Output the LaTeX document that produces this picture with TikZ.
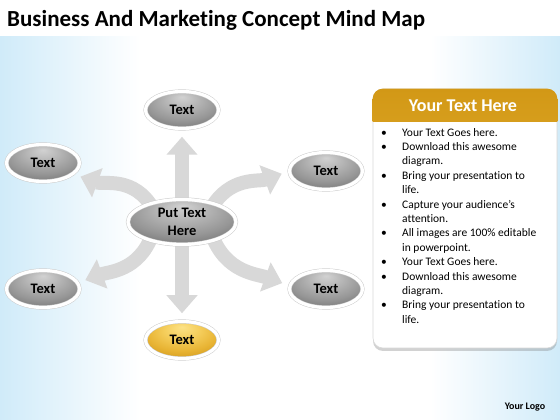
\documentclass[tikz,border=0pt]{standalone}
\usepackage{fontspec}
\setmainfont{Carlito}[Ligatures=NoCommon]
\usetikzlibrary{shapes.geometric,arrows.meta,shadows}

\definecolor{bgblue}{RGB}{208,235,249}
\definecolor{arrowgray}{RGB}{216,216,216}
\definecolor{grayA}{RGB}{210,210,210}
\definecolor{grayB}{RGB}{180,180,180}
\definecolor{grayC}{RGB}{150,150,150}
\definecolor{grayD}{RGB}{112,112,112}
\definecolor{grayE}{RGB}{85,85,85}
\definecolor{goldA}{RGB}{252,226,135}
\definecolor{goldB}{RGB}{245,206,92}
\definecolor{goldC}{RGB}{232,180,52}
\definecolor{goldD}{RGB}{205,148,25}
\definecolor{goldE}{RGB}{182,128,10}
\definecolor{headdark}{RGB}{210,152,22}
\definecolor{headlight}{RGB}{242,196,70}

\newcommand{\bubblefont}{\fontsize{14.5}{18}\selectfont\bfseries}
\newcommand{\listfont}{\fontsize{11.5}{14.4}\selectfont}
\newcommand{\bul}{\makebox[21pt][l]{\textbullet}}
\newcommand{\ind}{\hspace*{21pt}}

\pgfdeclareradialshading{grayshade}{\pgfpoint{0bp}{18bp}}{color(0bp)=(grayA); color(12bp)=(grayB); color(24bp)=(grayC); color(36bp)=(grayD); color(50bp)=(grayE)}
\pgfdeclareradialshading{goldshade}{\pgfpoint{0bp}{18bp}}{color(0bp)=(goldA); color(12bp)=(goldB); color(24bp)=(goldC); color(36bp)=(goldD); color(50bp)=(goldE)}

\pgfdeclarelayer{bg}
\pgfdeclarelayer{arrowlayer}
\pgfsetlayers{bg,arrowlayer,main}

\tikzset{
  bubble/.style={ellipse, draw=gray!40, double=white, double distance=3.2pt, line width=0.5pt,
    shading=grayshade, minimum width=73pt, minimum height=37pt, inner sep=0pt, font=\bubblefont},
  goldbubble/.style={bubble, shading=goldshade},
  bigarrow/.style={arrowgray, line width=14pt, -{Triangle[width=30pt,length=18pt]},
    shorten >=8pt, shorten <=-6pt},
  panelbox/.style={rectangle, rounded corners=10pt, fill=white, draw=gray!30, line width=0.6pt,
    minimum width=184pt, minimum height=259pt,
    drop shadow={shadow xshift=0pt, shadow yshift=-3pt, opacity=0.35, fill=gray}}
}

\begin{document}
\begin{tikzpicture}[x=1pt,y=1pt]
\useasboundingbox (0,0) rectangle (560,420);

% Background
\begin{pgfonlayer}{bg}
\fill[white] (0,0) rectangle (560,420);
\shade[left color=bgblue, right color=white] (0,0) rectangle (140,383);
\shade[left color=white, right color=bgblue] (430,0) rectangle (560,383);
\end{pgfonlayer}

% Title
\node (title) [anchor=base west, inner sep=0pt, font=\fontsize{23}{27}\selectfont\bfseries] at (7,393) {Business And Marketing Concept Mind Map};

% Mind map nodes
\node (ctr) [bubble, minimum width=108pt, minimum height=45pt, align=center] at (182,198) {Put Text\\Here};
\node (top) [bubble] at (182,310) {Text};
\node (tl) [bubble] at (43,257) {Text};
\node (tr) [bubble] at (326,249) {Text};
\node (bl) [bubble] at (43,131) {Text};
\node (br) [bubble] at (326,131) {Text};
\node (bot) [goldbubble] at (182,80) {Text};

% Arrows behind the nodes
\begin{pgfonlayer}{arrowlayer}
\draw[bigarrow] (ctr) -- (top);
\draw[bigarrow] (ctr) -- (bot);
\draw[bigarrow] (ctr.150) to[out=120,in=-20] (tl.-20);
\draw[bigarrow] (ctr.30) to[out=60,in=200] (tr.west);
\draw[bigarrow] (ctr.210) to[out=250,in=20] (bl.10);
\draw[bigarrow] (ctr.-30) to[out=-70,in=160] (br.175);
\end{pgfonlayer}

% Text panel
\node (panel) [panelbox] at (465,201.5) {};
\begin{scope}
\clip (panel.north west) rectangle ([yshift=-33pt]panel.north east);
\shade[top color=headdark, bottom color=headlight, rounded corners=10pt] (panel.south west) rectangle (panel.north east);
\end{scope}
\node (head) [text=white, font=\fontsize{18}{22}\selectfont\bfseries] at (463,314) {Your Text Here};
\node (list) [anchor=north west, align=left, inner sep=0pt, font=\listfont] at (381,292)
  {\bul Your Text Goes here.\\
   \bul Download this awesome\\
   \ind diagram.\\
   \bul Bring your presentation to\\
   \ind life.\\
   \bul Capture your audience’s\\
   \ind attention.\\
   \bul All images are 100\% editable\\
   \ind in powerpoint.\\
   \bul Your Text Goes here.\\
   \bul Download this awesome\\
   \ind diagram.\\
   \bul Bring your presentation to\\
   \ind life.};

% Logo
\node (logo) [font=\fontsize{10}{12}\selectfont\bfseries] at (525,13) {Your Logo};

\end{tikzpicture}
\end{document}
